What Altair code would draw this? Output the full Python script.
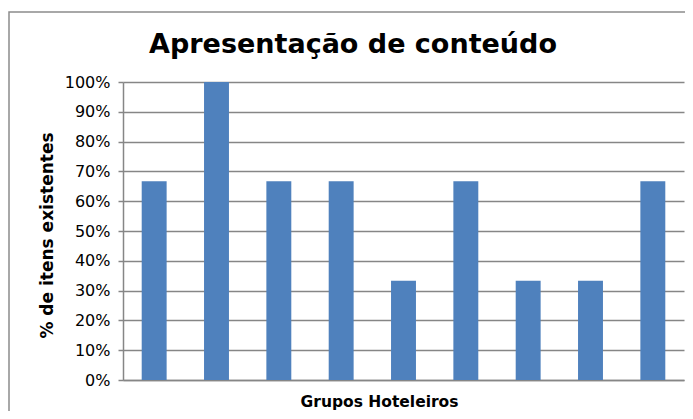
import altair as alt
import pandas as pd

groups = ["G1", "G2", "G3", "G4", "G5", "G6", "G7", "G8", "G9"]
values = [2/3, 1.0, 2/3, 2/3, 1/3, 2/3, 1/3, 1/3, 2/3]
y_ticks = [0, 0.1, 0.2, 0.3, 0.4, 0.5, 0.6, 0.7, 0.8, 0.9, 1.0]
title_text = "Apresentação de conteúdo"

df = pd.DataFrame({"grupo": groups, "valor": values})
FONT = "DejaVu Sans"

one = pd.DataFrame({"a": [0]})

frame = alt.Chart(one).mark_rect(
    fill=None, stroke="#8c8c8c", strokeWidth=1.5
).encode(
    x=alt.value(-114), x2=alt.value(700), y=alt.value(-70), y2=alt.value(400)
)

title = alt.Chart(one).mark_text(
    font=FONT, fontSize=27, fontWeight="bold", color="black",
    align="center", baseline="middle"
).encode(x=alt.value(230), y=alt.value(-37), text=alt.value(title_text))

bars = alt.Chart(df).mark_bar(color="#4F81BD").encode(
    x=alt.X("grupo:N", sort=groups,
            scale=alt.Scale(paddingInner=0.6, paddingOuter=0.3),
            axis=alt.Axis(title="Grupos Hoteleiros", labels=False, ticks=False,
                          domainColor="#868686", domainWidth=1.5,
                          titleFont=FONT, titleFontSize=15.5, titleFontWeight="bold",
                          titleColor="black", titleX=256, titleY=21,
                          titleAnchor="start", titleAlign="center",
                          titleBaseline="middle")),
    y=alt.Y("valor:Q", scale=alt.Scale(domain=[0, 1], nice=False),
            axis=alt.Axis(title="% de itens existentes", format=".0%", values=y_ticks,
                          grid=True, gridColor="#868686", gridWidth=1.5,
                          domainColor="#868686", domainWidth=1.5,
                          tickColor="#868686", tickSize=5, tickWidth=1.5,
                          labelFont=FONT, labelFontSize=16, labelColor="black",
                          labelPadding=8,
                          titleFont=FONT, titleFontSize=17, titleFontWeight="bold",
                          titleColor="black", titleAngle=270, titleX=-76, titleY=153,
                          titleAlign="center", titleBaseline="middle")),
)

chart = alt.layer(frame, bars, title).properties(
    width=561, height=298,
    autosize=alt.AutoSizeParams(type="none"),
    padding={"left": 115, "top": 74, "right": 1, "bottom": 31},
).configure_view(stroke=None)

chart.save("out.html", embed_options={"renderer": "svg", "actions": False})
